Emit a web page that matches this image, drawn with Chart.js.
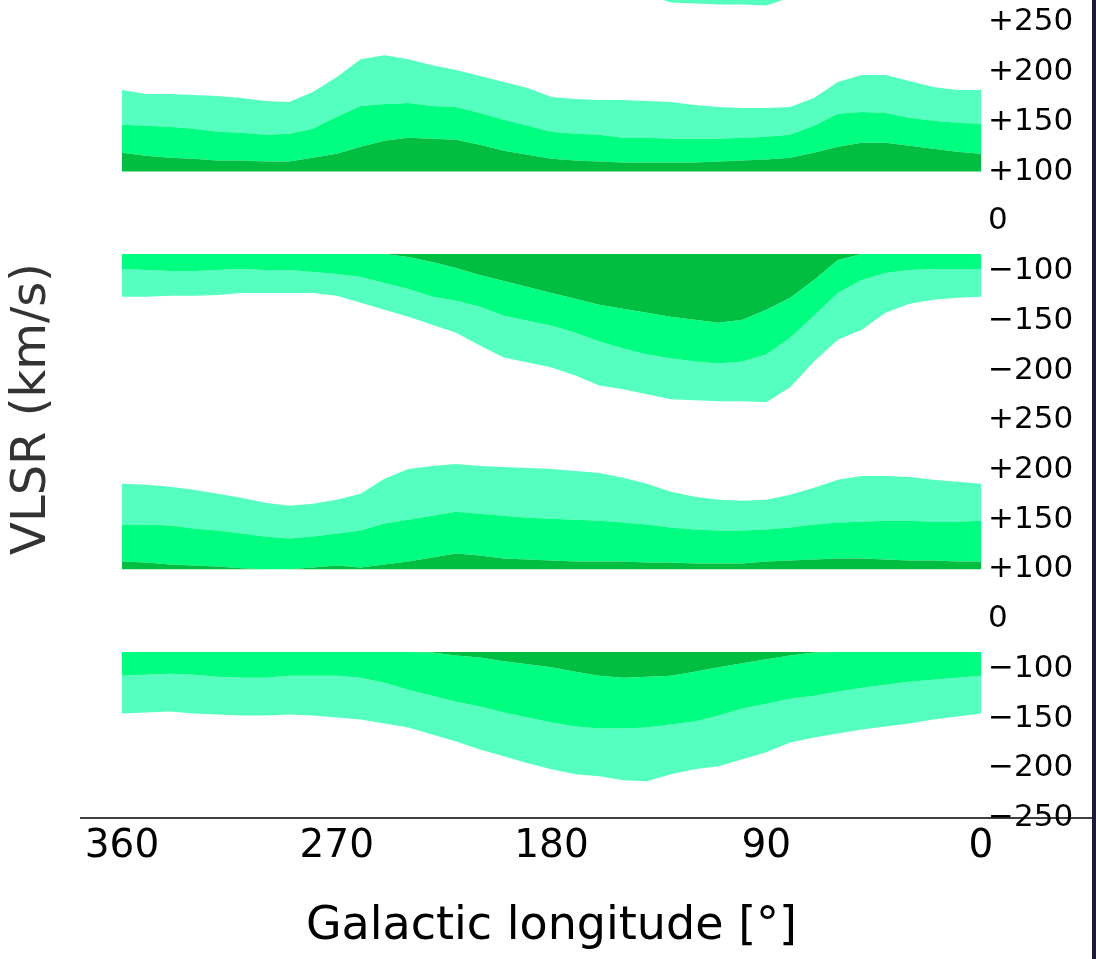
<!DOCTYPE html>
<html lang="en">
<head>
<meta charset="UTF-8">
<title>VLSR vs Galactic longitude</title>
<script src="https://cdn.jsdelivr.net/npm/chart.js"></script>
<style>
  html, body { margin: 0; padding: 0; background: #1a1a3a; }
  #wrap { width: 1092px; height: 959px; background: #fff; }
  canvas { display: block; }
</style>
</head>
<body>
<div id="wrap"><canvas id="vlsr" width="1092" height="959"></canvas></div>
<script>
// galactic longitude, plotted 360 -> 0
const LONGITUDE = [360, 350, 340, 330, 320, 310, 300, 290, 280, 270, 260, 250, 240, 230, 220, 210, 200, 190,
                   180, 170, 160, 150, 140, 130, 120, 110, 100, 90, 80, 70, 60, 50, 40, 30, 20, 10, 0];

// right axis labels, one per row (two panels, each +250 ... −200, then −250)
const ROW_LABELS = ['+250', '+200', '+150', '+100', '0', '−100', '−150', '−200',
                    '+250', '+200', '+150', '+100', '0', '−100', '−150', '−200', '−250'];
const X_TICKS = [0, 90, 180, 270, 360];

// band edges in km/s
const POS_BASE = 100;
const NEG_TOP = -66;

// upper panel, positive velocities
const P1_POS_DARK  = [119,116,114,113,111,111,110,110,114,118,125,131,134,133,132,127,121,117,113,111,110,109,109,109,109,110,111,112,114,119,125,129,129,126,123,120,118];
const P1_POS_MED   = [147,146,145,143,140,139,137,138,143,155,166,168,169,166,165,159,152,146,140,138,137,134,134,133,133,133,134,135,137,146,158,160,159,154,151,149,148];
const P1_POS_LIGHT = [182,178,178,177,176,174,171,170,180,195,213,217,213,207,202,196,190,184,175,173,172,172,171,170,167,165,164,164,165,174,190,197,197,191,185,182,182];

// upper panel, negative velocities
const P1_NEG_DARK  = [-66,-66,-66,-66,-66,-66,-66,-66,-66,-66,-66,-66,-72,-82,-94,-104,-110,-116,-122,-128,-134,-138,-142,-146,-149,-152,-149,-139,-127,-109,-78,-66,-66,-66,-66,-66,-66];
const P1_NEG_MED   = [-96,-98,-100,-100,-98,-96,-98,-98,-101,-103,-106,-112,-118,-126,-130,-136,-145,-150,-155,-162,-171,-178,-184,-188,-191,-193,-191,-184,-167,-145,-122,-109,-102,-98,-96,-96,-96];
const P1_NEG_LIGHT = [-126,-126,-125,-125,-124,-122,-122,-122,-122,-125,-132,-139,-146,-154,-162,-175,-187,-192,-197,-205,-215,-219,-224,-229,-230,-231,-231,-232,-217,-191,-169,-159,-142,-133,-129,-127,-126];

// lower panel, positive velocities
const P2_POS_DARK  = [108,107,105,104,103,101,100,100,102,104,102,105,108,112,116,114,111,110,109,108,108,108,107,107,106,106,106,108,109,110,111,111,110,109,109,108,108];
const P2_POS_MED   = [145,145,144,141,139,136,133,131,133,136,139,146,150,154,158,156,154,152,151,150,149,147,145,142,140,139,139,140,142,145,147,148,149,149,148,148,149];
const P2_POS_LIGHT = [186,185,183,180,176,172,167,164,166,170,176,191,201,204,206,204,203,202,201,199,197,192,186,178,173,170,169,170,175,182,190,194,194,193,190,188,186];

// lower panel, negative velocities
const P2_NEG_DARK  = [-66,-66,-66,-66,-66,-66,-66,-66,-66,-66,-66,-66,-66,-67,-73,-77,-85,-91,-97,-103,-107,-109,-108,-107,-103,-97,-89,-81,-73,-67,-66,-66,-66,-66,-66,-66,-66];
const P2_NEG_MED   = [-107,-106,-105,-106,-108,-109,-109,-107,-107,-107,-109,-114,-121,-127,-133,-138,-144,-149,-154,-158,-160,-160,-159,-156,-153,-147,-140,-135,-130,-127,-123,-119,-116,-113,-111,-109,-107];
const P2_NEG_LIGHT = [-145,-144,-143,-145,-146,-147,-147,-146,-147,-149,-151,-155,-159,-166,-173,-181,-188,-195,-201,-206,-208,-212,-213,-206,-201,-198,-191,-184,-174,-169,-165,-161,-158,-155,-151,-148,-145];

// panel above the view, only its lowest edge shows at the top
const P0_NEG_LIGHT = [-222,-222,-222,-222,-222,-222,-222,-222,-222,-222,-222,-222,-222,-222,-222,-222,-222,-222,-222,-222,-222,-222,-222,-230,-231,-232,-232,-233,-225,-222,-222,-222,-222,-222,-222,-222,-222];

const DARK = '#00bf40', MED = '#00ff80', LIGHT = '#55ffbf';

// broken velocity axis: 1 row per 50 km/s beyond |100|, 1 row per 100 km/s inside
function toRow(v, panel) {
    let r;
    if (v >= 100) r = (250 - v) / 50;
    else if (v >= 0) r = 3 + (100 - v) / 100;
    else if (v > -100) r = 4 - v / 100;
    else r = 5 + (-100 - v) / 50;
    return r + 8 * panel;
}

function band(values, panel, color, fill) {
    return {
        data: values.map((v, i) => ({ x: LONGITUDE[i], y: toRow(v, panel) })),
        backgroundColor: color,
        borderColor: 'rgba(0,0,0,0)',
        borderWidth: 0,
        pointRadius: 0,
        tension: 0,
        fill: fill
    };
}

const datasets = [
    band(P1_POS_DARK, 0, DARK, { value: toRow(POS_BASE, 0) }),
    band(P1_POS_MED, 0, MED, '-1'),
    band(P1_POS_LIGHT, 0, LIGHT, '-1'),
    band(P1_NEG_DARK, 0, DARK, { value: toRow(NEG_TOP, 0) }),
    band(P1_NEG_MED, 0, MED, '-1'),
    band(P1_NEG_LIGHT, 0, LIGHT, '-1'),
    band(P2_POS_DARK, 1, DARK, { value: toRow(POS_BASE, 1) }),
    band(P2_POS_MED, 1, MED, '-1'),
    band(P2_POS_LIGHT, 1, LIGHT, '-1'),
    band(P2_NEG_DARK, 1, DARK, { value: toRow(NEG_TOP, 1) }),
    band(P2_NEG_MED, 1, MED, '-1'),
    band(P2_NEG_LIGHT, 1, LIGHT, '-1'),
    band(P0_NEG_LIGHT, -1, LIGHT, { value: -3 })
];

// x axis line runs across the whole figure
const axisLine = {
    id: 'axisLine',
    afterDraw(chart) {
        const { ctx, chartArea } = chart;
        ctx.save();
        ctx.strokeStyle = '#000';
        ctx.lineWidth = 1.5;
        ctx.beginPath();
        ctx.moveTo(80, chartArea.bottom);
        ctx.lineTo(chart.width, chartArea.bottom);
        ctx.stroke();
        ctx.restore();
    }
};

Chart.defaults.font.family = 'DejaVu Sans';
Chart.defaults.color = '#000';

new Chart(document.getElementById('vlsr'), {
    type: 'line',
    data: { datasets: datasets },
    plugins: [axisLine],
    options: {
        responsive: false,
        animation: false,
        layout: { padding: 0 },
        plugins: { legend: { display: false }, tooltip: { enabled: false } },
        scales: {
            x: {
                type: 'linear',
                reverse: true,
                min: 0,
                max: 360,
                afterBuildTicks: s => { s.ticks = X_TICKS.map(v => ({ value: v })); },
                afterFit: s => { s.height = 141; s.paddingLeft = 0; s.paddingRight = 0; },
                ticks: { font: { size: 39 }, padding: 5, maxRotation: 0, autoSkip: false },
                grid: { display: false, drawTicks: false },
                border: { display: false },
                title: {
                    display: true,
                    text: 'Galactic longitude [°]',
                    font: { size: 46 },
                    color: '#000',
                    padding: { top: 0, bottom: 4 }
                }
            },
            y: {
                type: 'linear',
                position: 'right',
                reverse: true,
                min: -0.45,
                max: 16,
                afterBuildTicks: s => { s.ticks = ROW_LABELS.map((_, i) => ({ value: i })); },
                afterFit: s => { s.width = 111; s.paddingTop = 0; s.paddingBottom = 0; },
                ticks: {
                    font: { size: 31 },
                    padding: 7,
                    autoSkip: false,
                    callback: v => ROW_LABELS[Math.round(v)]
                },
                grid: { display: false, drawTicks: false },
                border: { display: false }
            },
            yTitle: {
                type: 'linear',
                position: 'left',
                min: 0,
                max: 1,
                afterFit: s => { s.width = 122; },
                ticks: { display: false },
                grid: { display: false, drawTicks: false },
                border: { display: false },
                title: {
                    display: true,
                    text: 'VLSR (km/s)',
                    font: { size: 48 },
                    color: '#333',
                    padding: { top: 4, bottom: 0 }
                }
            }
        }
    }
});
</script>
</body>
</html>
